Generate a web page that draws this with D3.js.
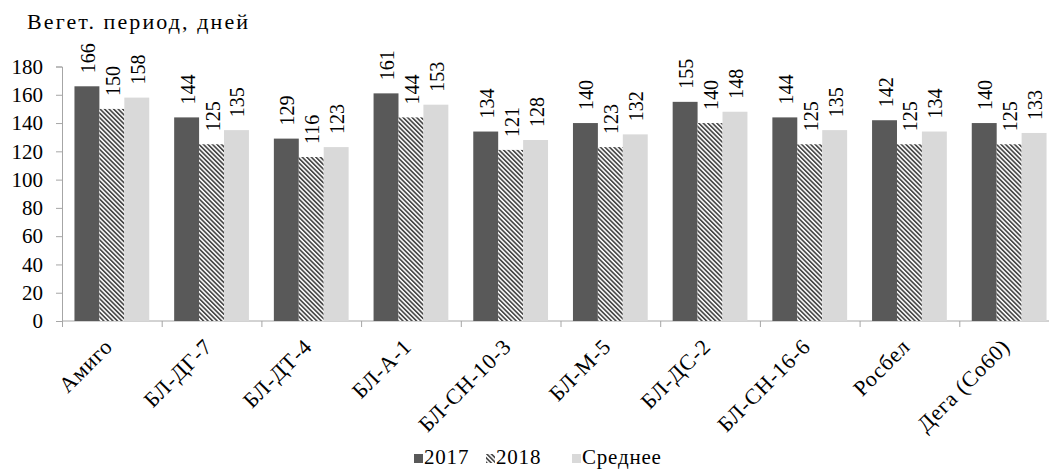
<!DOCTYPE html>
<html>
<head>
<meta charset="utf-8">
<script src="https://cdn.jsdelivr.net/npm/d3@7"></script>
<style>
  body { margin: 0; background: #fff; }
  text { font-family: "Liberation Serif", "Times New Roman", serif; fill: #000; }
</style>
</head>
<body>
<div id="chart"></div>
<script>
var categories = ["Амиго", "БЛ-ДГ-7", "БЛ-ДТ-4", "БЛ-А-1", "БЛ-СН-10-3", "БЛ-М-5", "БЛ-ДС-2", "БЛ-СН-16-6", "Росбел", "Дега (Со60)"];
var seriesNames = ["2017", "2018", "Среднее"];
var values2017 = [166, 144, 129, 161, 134, 140, 155, 144, 142, 140];
var values2018 = [150, 125, 116, 144, 121, 123, 140, 125, 125, 125];
var valuesAvg = [158, 135, 123, 153, 128, 132, 148, 135, 134, 133];
var yTicks = [0, 20, 40, 60, 80, 100, 120, 140, 160, 180];

var svgWidth = 1049;
var svgHeight = 469;

// plot area runs slightly past the right edge, like the cropped original
var margin = { top: 66.5, left: 62 };
var width = 997;
var height = 254.5;

var svg = d3.select("#chart")
  .append("svg")
  .attr("width", svgWidth)
  .attr("height", svgHeight);

var defs = svg.append("defs");
var hatch = defs.append("pattern")
  .attr("id", "hatch")
  .attr("patternUnits", "userSpaceOnUse")
  .attr("width", 3.2)
  .attr("height", 3.2)
  .attr("patternTransform", "rotate(-45)");
hatch.append("rect").attr("width", 3.2).attr("height", 3.2).attr("fill", "#fff");
hatch.append("rect").attr("width", 1.7).attr("height", 3.2).attr("fill", "#4a4a4a");

var colors = ["#595959", "url(#hatch)", "#d9d9d9"];

var chartGroup = svg.append("g")
  .attr("transform", `translate(${margin.left}, ${margin.top})`);

var xScale = d3.scaleBand()
  .domain(categories)
  .range([0, width])
  .paddingInner(0.25)
  .paddingOuter(0.125);

var xGroup = d3.scaleBand()
  .domain(seriesNames)
  .range([0, xScale.bandwidth()]);

var yScale = d3.scaleLinear()
  .domain([0, 180])
  .range([height, 0]);

// y axis
var leftAxis = d3.axisLeft(yScale)
  .tickValues(yTicks)
  .tickSize(6)
  .tickPadding(13);

var yAxisG = chartGroup.append("g").call(leftAxis);
yAxisG.select(".domain").attr("stroke", "#a6a6a6");
yAxisG.selectAll(".tick line").attr("stroke", "#a6a6a6");
yAxisG.selectAll(".tick text")
  .attr("font-family", "Liberation Serif")
  .attr("font-size", "21px")
  .attr("fill", "#000");

// x axis line and ticks at band edges
var step = xScale.step();
var xAxisG = chartGroup.append("g").attr("transform", `translate(0, ${height})`);
xAxisG.append("line")
  .attr("x1", 0).attr("x2", width)
  .attr("stroke", "#a6a6a6");
xAxisG.selectAll(".xtick")
  .data(d3.range(categories.length + 1))
  .enter()
  .append("line")
  .attr("x1", d => d * step + 0.5)
  .attr("x2", d => d * step + 0.5)
  .attr("y1", 0)
  .attr("y2", 6)
  .attr("stroke", "#a6a6a6");

xAxisG.selectAll(".xlabel")
  .data(categories)
  .enter()
  .append("text")
  .attr("transform", d => `translate(${xScale(d) + xScale.bandwidth() / 2 + 2}, 27) rotate(-45)`)
  .attr("text-anchor", "end")
  .attr("font-size", "22px")
  .attr("letter-spacing", "0.8px")
  .text(d => d);

// bars
var seriesValues = [values2017, values2018, valuesAvg];
var rows = categories.map(function(c, i) {
  return seriesNames.map(function(s, j) {
    return { cat: c, series: s, idx: j, value: seriesValues[j][i] };
  });
});

var groups = chartGroup.selectAll(".grp")
  .data(rows)
  .enter()
  .append("g")
  .attr("transform", d => `translate(${xScale(d[0].cat)}, 0)`);

groups.selectAll("rect")
  .data(d => d)
  .enter()
  .append("rect")
  .attr("x", d => xGroup(d.series))
  .attr("y", d => yScale(d.value))
  .attr("width", xGroup.bandwidth())
  .attr("height", d => height - yScale(d.value))
  .attr("fill", d => colors[d.idx]);

groups.selectAll("text")
  .data(d => d)
  .enter()
  .append("text")
  .attr("transform", d => `translate(${xGroup(d.series) + xGroup.bandwidth() / 2 + 8}, ${yScale(d.value) - 13}) rotate(-90)`)
  .attr("font-size", "20px")
  .text(d => d.value);

// title
svg.append("text")
  .attr("x", 27)
  .attr("y", 29)
  .attr("font-size", "22px")
  .attr("letter-spacing", "2.1px")
  .text("Вегет. период, дней");

// legend
var legendItems = [
  { name: "2017", x: 414 },
  { name: "2018", x: 486 },
  { name: "Среднее", x: 572 }
];
var legend = svg.append("g");
legend.selectAll("rect")
  .data(legendItems)
  .enter()
  .append("rect")
  .attr("x", d => d.x)
  .attr("y", 454)
  .attr("width", 9)
  .attr("height", 9)
  .attr("fill", (d, i) => colors[i]);
legend.selectAll("text")
  .data(legendItems)
  .enter()
  .append("text")
  .attr("x", d => d.x + 10)
  .attr("y", 464)
  .attr("font-size", "21px")
  .attr("letter-spacing", "0.8px")
  .text(d => d.name);
</script>
</body>
</html>
